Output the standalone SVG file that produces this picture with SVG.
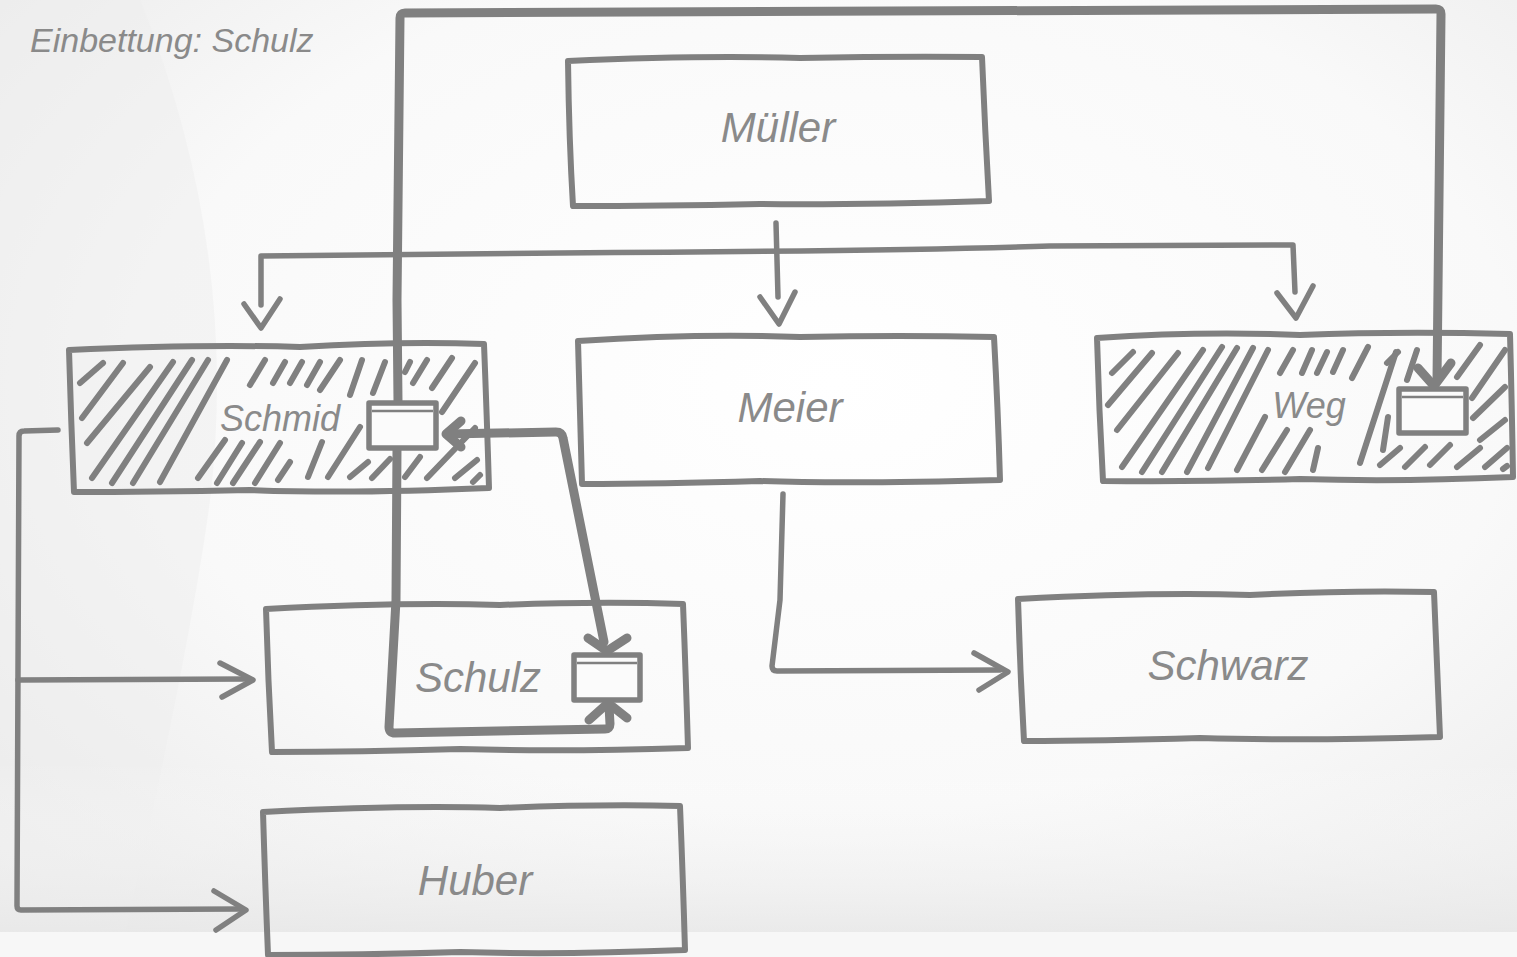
<svg xmlns="http://www.w3.org/2000/svg" width="1517" height="957" viewBox="0 0 1517 957">
<defs>
<radialGradient id="bg" cx="0.55" cy="0.4" r="0.75">
<stop offset="0" stop-color="#ffffff"/>
<stop offset="0.6" stop-color="#f9f9f9"/>
<stop offset="1" stop-color="#e9e9e9"/>
</radialGradient>
<linearGradient id="bot" x1="0" y1="0" x2="0" y2="1">
<stop offset="0" stop-color="#ffffff" stop-opacity="0"/>
<stop offset="1" stop-color="#e8e8e8" stop-opacity="0.8"/>
</linearGradient>
<style>
.box{fill:none;stroke:#808080;stroke-width:6;stroke-linejoin:round;stroke-linecap:round}
.small{fill:#fbfbfb;stroke:#808080;stroke-width:5.5;stroke-linejoin:round}
.inner{stroke:#808080;stroke-width:2.5;fill:none}
.hatch line{stroke:#808080;stroke-width:6;stroke-linecap:round}
.thin{fill:none;stroke:#808080;stroke-width:5.5;stroke-linejoin:round;stroke-linecap:round}
.thick{fill:none;stroke:#808080;stroke-width:9;stroke-linejoin:round;stroke-linecap:round}
.lbl{font-family:"Liberation Sans Narrow","Liberation Sans",sans-serif;font-style:italic;fill:#8a8a8a;text-anchor:middle;font-size:42px}
.title{font-family:"Liberation Sans Narrow","Liberation Sans",sans-serif;font-style:italic;fill:#8a8a8a;font-size:34px}
</style>
</defs>
<rect width="1517" height="957" fill="url(#bg)"/>
<path d="M0,0 L140,0 Q240,250 210,500 Q190,650 120,957 L0,957 Z" fill="#eeeeee" opacity="0.5"/>
<rect x="0" y="760" width="1517" height="172" fill="url(#bot)"/>
<rect x="0" y="932" width="1517" height="25" fill="#f7f7f7"/>

<text class="title" x="30" y="52">Einbettung: Schulz</text>

<g id="hatching" class="hatch">
<line x1="80" y1="383" x2="103" y2="363"/>
<line x1="82" y1="418" x2="123" y2="363"/>
<line x1="87" y1="443" x2="150" y2="367"/>
<line x1="92" y1="478" x2="173" y2="362"/>
<line x1="112" y1="483" x2="192" y2="360"/>
<line x1="133" y1="483" x2="208" y2="360"/>
<line x1="160" y1="482" x2="227" y2="360"/>
<line x1="250" y1="385" x2="265" y2="360"/>
<line x1="273" y1="383" x2="285" y2="362"/>
<line x1="290" y1="383" x2="302" y2="362"/>
<line x1="307" y1="385" x2="320" y2="362"/>
<line x1="320" y1="390" x2="340" y2="360"/>
<line x1="350" y1="395" x2="362" y2="360"/>
<line x1="373" y1="393" x2="385" y2="362"/>
<line x1="405" y1="372" x2="410" y2="362"/>
<line x1="413" y1="383" x2="427" y2="360"/>
<line x1="432" y1="388" x2="452" y2="358"/>
<line x1="442" y1="412" x2="475" y2="363"/>
<line x1="198" y1="478" x2="225" y2="440"/>
<line x1="217" y1="483" x2="242" y2="443"/>
<line x1="233" y1="483" x2="260" y2="442"/>
<line x1="255" y1="483" x2="280" y2="443"/>
<line x1="278" y1="480" x2="290" y2="462"/>
<line x1="308" y1="477" x2="322" y2="442"/>
<line x1="328" y1="477" x2="360" y2="427"/>
<line x1="350" y1="477" x2="368" y2="462"/>
<line x1="372" y1="478" x2="390" y2="459"/>
<line x1="405" y1="477" x2="420" y2="457"/>
<line x1="427" y1="478" x2="475" y2="428"/>
<line x1="455" y1="478" x2="477" y2="460"/>
<line x1="473" y1="482" x2="480" y2="475"/>

<line x1="1112" y1="373" x2="1133" y2="352"/>
<line x1="1108" y1="405" x2="1152" y2="353"/>
<line x1="1117" y1="430" x2="1178" y2="353"/>
<line x1="1122" y1="467" x2="1203" y2="350"/>
<line x1="1142" y1="472" x2="1222" y2="347"/>
<line x1="1162" y1="472" x2="1237" y2="348"/>
<line x1="1187" y1="472" x2="1253" y2="348"/>
<line x1="1208" y1="468" x2="1268" y2="350"/>
<line x1="1237" y1="470" x2="1265" y2="417"/>
<line x1="1262" y1="470" x2="1287" y2="430"/>
<line x1="1285" y1="472" x2="1310" y2="430"/>
<line x1="1313" y1="470" x2="1318" y2="448"/>
<line x1="1280" y1="373" x2="1293" y2="350"/>
<line x1="1302" y1="373" x2="1312" y2="350"/>
<line x1="1317" y1="373" x2="1327" y2="352"/>
<line x1="1333" y1="372" x2="1343" y2="350"/>
<line x1="1352" y1="378" x2="1368" y2="347"/>
<line x1="1360" y1="463" x2="1396" y2="352"/>
<line x1="1383" y1="450" x2="1388" y2="417"/>
<line x1="1387" y1="363" x2="1398" y2="352"/>
<line x1="1407" y1="380" x2="1417" y2="350"/>
<line x1="1457" y1="377" x2="1480" y2="345"/>
<line x1="1472" y1="398" x2="1505" y2="350"/>
<line x1="1473" y1="418" x2="1505" y2="387"/>
<line x1="1480" y1="440" x2="1505" y2="420"/>
<line x1="1380" y1="465" x2="1400" y2="448"/>
<line x1="1405" y1="467" x2="1425" y2="447"/>
<line x1="1430" y1="465" x2="1450" y2="445"/>
<line x1="1457" y1="467" x2="1480" y2="448"/>
<line x1="1485" y1="467" x2="1507" y2="448"/>
<line x1="1503" y1="469" x2="1507" y2="466"/>
</g>

<g id="connectors">
<path class="thin" d="M776,223 L778,297"/>
<path class="thin" d="M760,297 L779,324 L795,292"/>
<path class="thin" d="M261,305 L261,256 L560,253 Q900,251 1050,246 L1293,245 L1295,292"/>
<path class="thin" d="M244,304 L261,328 L280,299"/>
<path class="thin" d="M1277,293 L1296,318 L1313,286"/>
<path class="thin" d="M58,430 L24,431 Q19,431 19,436 L17,906 Q17,910 21,910 L240,909"/>
<path class="thin" d="M18,680 L247,679"/>
<path class="thin" d="M220,663 L253,680 L222,697"/>
<path class="thin" d="M214,891 L246,910 L216,930"/>
<path class="thin" d="M783,494 L780,600 L772,666 Q772,671 777,671 L1000,670"/>
<path class="thin" d="M974,653 L1008,672 L979,690"/>
<path class="thick" d="M398,402 L397,300 L400,18 Q400,13 405,13 L1436,9 Q1441,9 1441,14 L1437,380"/>
<path class="thick" d="M1418,368 L1434,386 L1451,363"/>
<path class="thick" d="M397,448 L396,600 L389,727 Q389,733 395,733 L605,729 Q610,729 610,724 L609,706"/>
<path class="thick" d="M589,720 L608,703 L627,718"/>
<path class="thick" d="M447,434 L556,432 Q562,432 563,438 L604,642"/>
<path class="thick" d="M588,638 L607,651 L627,638"/>
<path class="thick" d="M461,421 L446,434 L461,447"/>
</g>

<g id="mueller">
<path class="box" d="M568,61 Q700,55 800,58 Q900,56 982,57 Q985,130 989,201 Q860,205 760,204 Q660,206 573,206 Q569,140 568,61 Z"/>
<text class="lbl" x="778" y="142">Müller</text>
</g>
<g id="meier">
<path class="box" d="M578,341 Q700,333 800,337 Q900,335 994,337 Q998,410 1000,480 Q850,484 760,481 Q660,484 582,484 Q580,410 578,341 Z"/>
<text class="lbl" x="790" y="422">Meier</text>
</g>
<g id="schmid">
<path class="box" d="M69,350 Q200,344 300,347 Q400,341 484,344 Q487,420 489,488 Q350,494 250,490 Q150,492 74,492 Q71,420 69,350 Z"/>
<text class="lbl" x="280" y="431" style="font-size:36px">Schmid</text>
<rect class="small" x="369" y="403" width="67" height="45"/>
<line class="inner" x1="372" y1="411" x2="433" y2="411"/>
</g>
<g id="weg">
<path class="box" d="M1097,338 Q1200,331 1300,335 Q1400,331 1510,334 Q1512,410 1513,477 Q1400,482 1300,479 Q1200,482 1103,481 Q1099,410 1097,338 Z"/>
<text class="lbl" x="1309" y="418" style="font-size:36px">Weg</text>
<rect class="small" x="1399" y="389" width="67" height="44"/>
<line class="inner" x1="1402" y1="397" x2="1463" y2="397"/>
</g>
<g id="schulz">
<path class="box" d="M266,609 Q400,602 500,605 Q600,601 683,604 Q686,680 688,748 Q560,752 460,749 Q360,752 272,752 Q268,680 266,609 Z"/>
<text class="lbl" x="478" y="692">Schulz</text>
<rect class="small" x="574" y="655" width="66" height="45"/>
<line class="inner" x1="577" y1="663" x2="637" y2="663"/>
</g>
<g id="schwarz">
<path class="box" d="M1018,599 Q1150,592 1250,595 Q1350,590 1434,592 Q1437,670 1440,737 Q1300,741 1200,738 Q1100,741 1024,741 Q1020,670 1018,599 Z"/>
<text class="lbl" x="1228" y="680">Schwarz</text>
</g>
<g id="huber">
<path class="box" d="M263,812 Q400,805 500,808 Q600,804 680,806 Q683,880 685,950 Q560,955 460,952 Q360,955 268,955 Q265,880 263,812 Z"/>
<text class="lbl" x="475" y="895">Huber</text>
</g>
</svg>
